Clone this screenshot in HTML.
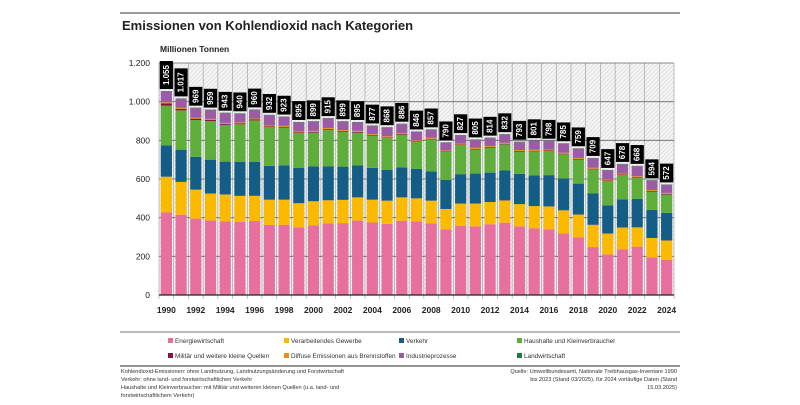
<!DOCTYPE html>
<html><head><meta charset="utf-8"><style>
body{margin:0;background:#fff;font-family:"Liberation Sans",sans-serif;}
svg text{font-family:"Liberation Sans",sans-serif;}
</style></head><body>
<svg id="c" width="800" height="400" xmlns="http://www.w3.org/2000/svg">
<defs>
<pattern id="hatch" width="3" height="3" patternUnits="userSpaceOnUse" patternTransform="rotate(45)">
<rect width="3" height="3" fill="#f4f4f4"/><line x1="0" y1="0" x2="0" y2="3" stroke="#cfcfcf" stroke-width="1"/>
</pattern>
</defs>
<line x1="120" y1="13" x2="680" y2="13" stroke="#777" stroke-width="1.5"/>
<text x="122" y="30" font-size="13" font-weight="bold" fill="#222">Emissionen von Kohlendioxid nach Kategorien</text>
<text x="160" y="52" font-size="8.5" font-weight="bold" fill="#222">Millionen Tonnen</text>
<g id="plot"></g>
<line x1="120" y1="332" x2="680" y2="332" stroke="#777" stroke-width="1"/>
<g id="legend" font-size="6.4" fill="#333"></g>
<line x1="120" y1="366" x2="680" y2="366" stroke="#555" stroke-width="1.2"/>
<g font-size="5.6" fill="#333">
<text x="121" y="373">Kohlendioxid-Emissionen: ohne Landnutzung, Landnutzungsänderung und Forstwirtschaft</text>
<text x="121" y="381">Verkehr: ohne land- und forstwirtschaftlichen Verkehr</text>
<text x="121" y="389">Haushalte und Kleinverbraucher: mit Militär und weiteren kleinen Quellen (u.a. land- und</text>
<text x="121" y="397">forstwirtschaftlichem Verkehr)</text>
</g>
<g font-size="5.6" fill="#333" text-anchor="end">
<text x="677" y="373" font-family="Liberation Serif">Quelle: Umweltbundesamt, Nationale Treibhausgas-Inventare 1990</text>
<text x="677" y="381" font-family="Liberation Serif">bis 2023 (Stand 03/2025), für 2024 vorläufige Daten (Stand</text>
<text x="677" y="389" font-family="Liberation Serif">15.03.2025)</text>
</g>
</svg>
<script>
const years=[1990,1991,1992,1993,1994,1995,1996,1997,1998,1999,2000,2001,2002,2003,2004,2005,2006,2007,2008,2009,2010,2011,2012,2013,2014,2015,2016,2017,2018,2019,2020,2021,2022,2023,2024];
const energie=[427,415,395,385,380,378,383,363,363,350,360,370,372,385,375,368,383,380,370,340,358,355,366,374,355,345,340,318,298,248,210,237,250,195,182];
const gewerbe=[185,170,150,140,140,135,130,130,130,125,125,120,120,120,118,120,122,120,118,105,115,118,115,115,115,115,118,120,118,115,108,112,100,100,100];
const verkehr=[162,165,170,175,170,175,175,175,178,182,180,175,172,165,165,160,155,152,152,150,152,155,152,155,157,158,162,165,160,162,146,146,147,145,143];
const haushalte=[205,205,190,200,190,195,215,200,195,180,175,190,180,170,165,165,170,140,165,145,150,125,130,135,115,125,125,125,125,125,125,125,110,95,95];
const militaer=[12,8,7,6,5,5,5,4,4,4,4,4,4,4,4,3,3,3,3,3,3,3,3,3,3,3,3,3,3,3,3,3,3,3,3];
const diffus=[6,5,5,5,5,5,5,5,5,5,5,5,5,5,5,5,5,5,5,5,5,5,5,5,5,5,5,5,5,5,5,5,5,5,5];
const prozesse=[56,47,50,46,51,45,45,53,46,47,48,49,44,44,43,45,46,44,42,40,42,42,41,43,41,48,43,47,48,49,48,48,51,49,42];
const landwirt=[2,2,2,2,2,2,2,2,2,2,2,2,2,2,2,2,2,2,2,2,2,2,2,2,2,2,2,2,2,2,2,2,2,2,2];
const totals=["1.055","1.017","969","959","943","940","960","932","923","895","899","915","899","895","877","868","886","846","857","790","827","805","814","832","793","801","798","785","759","709","647","678","668","594","572"];
const yTicks=[0,200,400,600,800,1000,1200];
const yTickLabels=["0","200","400","600","800","1.000","1.200"];

const NS="http://www.w3.org/2000/svg";
const X0=159,X1=674,Y0=295,Y1=63,YMAX=1200;
const slot=(X1-X0)/years.length;
const y=v=>Y0-(v/YMAX)*(Y0-Y1);
const x=i=>X0+i*slot;
const plot=document.getElementById('plot');
function mk(t,a,p){const e=document.createElementNS(NS,t);for(const k in a)e.setAttribute(k,a[k]);(p||plot).appendChild(e);return e;}

let bg=mk('rect',{x:X0,y:Y1,width:X1-X0,height:Y0-Y1,fill:'url(#hatch)'});


for(let i=0;i<=years.length;i++){
  let l=mk('line',{x1:x(i),y1:Y1,x2:x(i),y2:Y0+4,stroke:'#999','stroke-width':0.6});
  
  
}
yTicks.forEach((t,k)=>{
  let l=mk('line',{x1:X0,y1:y(t),x2:X1,y2:y(t),stroke:'#666','stroke-width':0.8});
  
  
  let tx=mk('text',{x:150,y:y(t)+3,'font-size':8.5,'text-anchor':'end',fill:'#222'});
  tx.textContent=yTickLabels[k];
  
  
});
const series=[[energie,'#e8709f'],[gewerbe,'#fbb900'],[verkehr,'#135d87'],[haushalte,'#5fad3b'],[militaer,'#8a1538'],[diffus,'#e88c1a'],[prozesse,'#9b5ba5'],[landwirt,'#1d7a3a']];
const bw=slot*0.76;
years.forEach((yr,i)=>{
  let cum=0;
  const bx=x(i)+(slot-bw)/2;
  series.forEach(([arr,col])=>{
    const v=arr[i];
    let r=mk('rect',{x:bx,y:y(cum+v),width:bw,height:y(cum)-y(cum+v),fill:col});
    
    
    cum+=v;
  });
  const lab=totals[i];
  const h=lab.length*4.6+5;
  const top=y(cum)-2;
  let g=mk('g',{});
  
  
  mk('rect',{x:bx-1,y:top-h,width:bw+2,height:h,fill:'#000'},g);
  const cx=bx+bw/2, cy=top-h/2;
  let t=mk('text',{x:cx,y:cy,'font-size':8,'font-weight':'bold',fill:'#fff','text-anchor':'middle','dominant-baseline':'central',transform:`rotate(-90 ${cx} ${cy})`},g);
  t.textContent=lab;
  if(i%2===0){
    let xt=mk('text',{x:x(i)+slot/2,y:313,'font-size':8.5,'font-weight':'bold','text-anchor':'middle',fill:'#222'});
    xt.textContent=yr;
    
    
  }
});
let ax=mk('line',{x1:X0,y1:Y0,x2:X1,y2:Y0,stroke:'#222','stroke-width':1.2});



const leg=document.getElementById('legend');
const legItems=[['Energiewirtschaft','#e8709f',168,343],['Verarbeitendes Gewerbe','#fbb900',284,343],['Verkehr','#135d87',399,343],['Haushalte und Kleinverbraucher','#5fad3b',517,343],
['Militär und weitere kleine Quellen','#8a1538',168,358],['Diffuse Emissionen aus Brennstoffen','#e88c1a',284,358],['Industrieprozesse','#9b5ba5',399,358],['Landwirtschaft','#1d7a3a',517,358]];
legItems.forEach(([n,c,lx,ly])=>{
  let g=mk('g',{},leg);
  
  
  mk('rect',{x:lx,y:ly-5,width:5,height:5,fill:c},g);
  let t=mk('text',{x:lx+7,y:ly,'font-size':6.4,fill:'#333'},g);
  t.textContent=n;
});
</script>
</body></html>
